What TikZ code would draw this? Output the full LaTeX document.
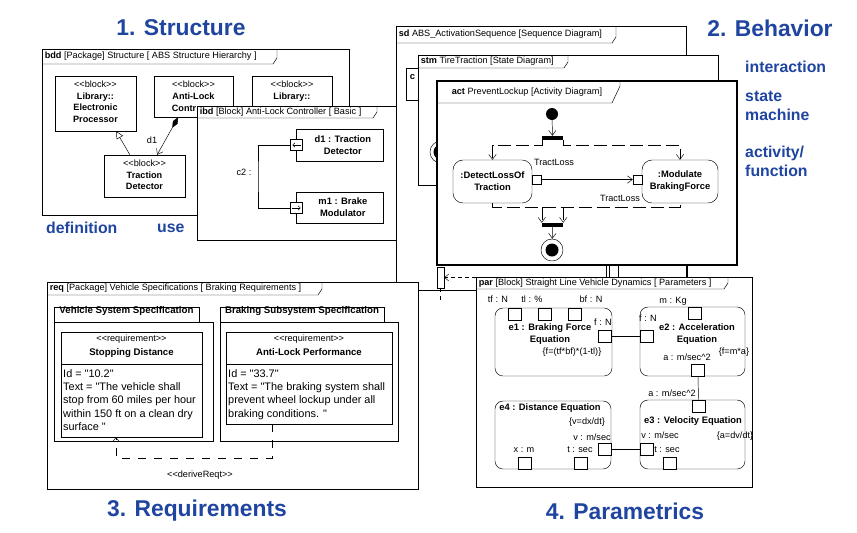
\documentclass[tikz,border=0pt]{standalone}
\usepackage{fontspec}
\newfontfamily\diagfont{Liberation Sans}
\usetikzlibrary{arrows.meta, positioning, fit}
\definecolor{absblue}{HTML}{1F45A0}

% frame tab: x-left, y-top, tab right, tab bottom, text, name
\newcommand{\frametab}[6]{%
  \draw (#1,#4) -- (#3-4,#4) -- (#3,#4-6) -- (#3,#2);
  \node[tablbl, anchor=west] (#6) at (#1+2,{(#2+#4)/2}) {#5};
}

\begin{document}
\begin{tikzpicture}[x=0.3mm, y=-0.3mm,
    frame/.style={draw, fill=white, inner sep=0pt},
    blk/.style={draw, fill=white, inner sep=0pt},
    eqn/.style={blk, rounded corners=2.4mm},
    actn/.style={blk, rounded corners=3mm},
    port/.style={draw, fill=white, inner sep=0pt,
                 minimum width=3.9mm, minimum height=3.6mm},
    pin/.style={draw, fill=white, inner sep=0pt, minimum size=2.7mm},
    lbl/.style={font=\diagfont\fontsize{7.8}{9.4}\selectfont, inner sep=0.5pt},
    tablbl/.style={lbl},
    bname/.style={font=\diagfont\bfseries\fontsize{8}{10.2}\selectfont,
                  align=center, inner sep=0.5pt},
    pkgtab/.style={blk, font=\diagfont\bfseries\fontsize{8.3}{10}\selectfont},
    reqtxt/.style={font=\diagfont\fontsize{9.3}{11.2}\selectfont,
                   align=left, inner sep=0pt, anchor=north west},
    title/.style={font=\diagfont\bfseries\fontsize{19.5}{23}\selectfont,
                  text=absblue},
    side/.style={font=\diagfont\bfseries\fontsize{13.5}{16.2}\selectfont,
                 text=absblue, align=left, inner sep=0pt, anchor=west},
    flow/.style={-{Straight Barb[length=1.5mm, width=2.2mm]}},
    cflow/.style={flow, dash pattern=on 3.9mm off 1.5mm},
    gen/.style={-{Triangle[open, length=2.2mm, width=2.2mm]}},
    comp/.style={{Diamond[length=3.6mm, width=1.6mm]}-{Straight Barb[length=1.5mm, width=2.2mm]}},
    deriv/.style={-{Straight Barb[length=1.2mm, width=2mm]},
                  dash pattern=on 2.4mm off 2.4mm}
  ]
  \path[fill=white, use as bounding box] (0,0) rectangle (857,532);

  % headings
  \node[title] (tstruct) at (181,28) {1. Structure};
  \node[title] (tbehav) at (770,28) {2. Behavior};
  \node[title] (treq) at (197,511) {3. Requirements};
  \node[title] (tpar) at (625,511) {4. Parametrics};
  \node[side] (tdef) at (46,228) {definition};
  \node[side] (tuse) at (157,228) {use};
  \node[side] (tint) at (745,67) {interaction};
  \node[side] (tstm) at (745,105.5) {state\\machine};
  \node[side] (tact) at (745,161.5) {activity/\\function};

  % sequence diagram
  \node[frame, fit={(396,26)(686,290)}] (sd) {};
  \frametab{396}{26}{616}{43}{\textbf{sd} ABS\_ActivationSequence [Sequence Diagram]}{sdT}
  \node[blk, fit={(406,68)(432,100)}] (sdc) {};
  \node[bname, anchor=west] (sdcT) at (409,77) {c};

  % state machine
  \node[frame, fit={(418,55)(718,185)}] (stm) {};
  \frametab{418}{55}{568}{68}{\textbf{stm} TireTraction [State Diagram]}{stmT}
  \node[circle, draw, fill=white, minimum size=6.6mm, inner sep=0pt] (stmfin) at (441,152) {};
  \node[circle, fill=black, minimum size=4.5mm, inner sep=0pt] (stmfinc) at (stmfin) {};

  % activity diagram
  \node[frame, line width=2.2pt, fit={(437,81)(737,265)}] (act) {};
  \draw (437,103) -- (612,103) -- (620,86) -- (620,81);
  \node[lbl, anchor=west] (actT) at (451,92) {\textbf{act} PreventLockup [Activity Diagram]};
  \node[circle, fill=black, minimum size=3.6mm, inner sep=0pt] (init) at (552,114) {};
  \node[fill=black, inner sep=0pt, minimum width=6.3mm, minimum height=1.2mm] (fork) at (552.5,138) {};
  \node[actn, fit={(453,160)(532,203)}] (dlt) {};
  \node[bname] (dltT) at (dlt) {:DetectLossOf\\Traction};
  \node[pin] (dltpin) at (536.5,179.5) {};
  \node[actn, fit={(642,160)(718,203)}] (mod) {};
  \node[bname] (modT) at (mod) {:Modulate\\BrakingForce};
  \node[pin] (modpin) at (637.5,179.5) {};
  \node[fill=black, inner sep=0pt, minimum width=6.3mm, minimum height=1.2mm] (join) at (552.5,225) {};
  \node[circle, draw, fill=white, minimum size=6.6mm, inner sep=0pt] (final) at (552,250) {};
  \node[circle, fill=black, minimum size=3.9mm, inner sep=0pt] (finalc) at (final) {};
  \coordinate (fsplit) at (552,145);
  \coordinate (fmerge) at (552,207);

  \draw[flow] (init) -- (fork);
  \draw[cflow] (fork.south west) |- (dlt.north |- fsplit) -- (dlt.north);
  \draw[cflow] (fork.south east) |- (mod.north |- fsplit) -- (mod.north);
  \draw[flow] (dltpin.east) -- (modpin.west);
  \node[lbl] (tl1) at (554,162) {TractLoss};
  \node[lbl] (tl2) at (620,198) {TractLoss};
  \draw[dash pattern=on 3.9mm off 1.5mm] (dlt.south) |- (mod.south |- fmerge) -- (mod.south);
  \draw[cflow] (join.north west |- fmerge) -- (join.north west);
  \draw[cflow] (join.north east |- fmerge) -- (join.north east);
  \draw[flow] (join) -- (final);

  % block definition diagram
  \node[frame, fit={(42,49)(349,215)}] (bdd) {};
  \frametab{42}{49}{277}{64}{\textbf{bdd} [Package] Structure [ ABS Structure Hierarchy ]}{bddT}
  \node[blk, fit={(55,76)(136,131)}] (lib) {};
  \node[lbl, align=center, below=1.2mm of lib.north] (libT)
    {<<block>>\\[1.5pt]\textbf{Library::}\\\textbf{Electronic}\\\textbf{Processor}};
  \node[blk, fit={(154,76)(233,117)}] (ctrl) {};
  \node[lbl, align=center, below=1.2mm of ctrl.north] (ctrlT)
    {<<block>>\\[1.5pt]\textbf{Anti-Lock}};
  \node[lbl, anchor=west, font=\diagfont\bfseries\fontsize{7.8}{9.4}\selectfont] (ctrlC) at (171,108) {Contr};
  \node[blk, fit={(252,76)(332,140)}] (lib2) {};
  \node[lbl, align=center, below=1.2mm of lib2.north] (lib2T)
    {<<block>>\\[1.5pt]\textbf{Library::}};
  \node[blk, fit={(104,155)(185,197)}] (td) {};
  \node[lbl, align=center, below=1.2mm of td.north] (tdT)
    {<<block>>\\[1.5pt]\textbf{Traction}\\\textbf{Detector}};
  \draw[gen] ([xshift=-4.4mm]td.north) -- ([xshift=6.2mm]lib.south);
  \draw[comp] ([xshift=-4.6mm]ctrl.south) -- ([xshift=3.8mm]td.north);
  \node[lbl] (d1L) at (152,140) {d1};

  % internal block diagram
  \node[frame, fit={(197,106)(396,240)}] (ibd) {};
  \frametab{197}{106}{377}{118}{\textbf{ibd} [Block] Anti-Lock Controller [ Basic ]}{ibdT}
  \node[blk, fit={(296,129)(383,161)}] (d1p) {};
  \node[bname] (d1pT) at ([xshift=1mm]d1p.center) {d1 : Traction\\Detector};
  \node[blk, fit={(296,192)(383,223)}] (m1p) {};
  \node[bname] (m1pT) at ([xshift=1mm]m1p.center) {m1 : Brake\\Modulator};
  \node[port, minimum width=3.6mm, minimum height=3.4mm] (d1port) at (296.5,145) {};
  \node[port, minimum width=3.6mm, minimum height=3.4mm] (m1port) at (296.5,208) {};
  \draw[-{Straight Barb[length=0.7mm, width=1.3mm]}] ([xshift=-0.6mm]d1port.east) -- ([xshift=0.6mm]d1port.west);
  \draw[-{Straight Barb[length=0.7mm, width=1.3mm]}] ([xshift=0.6mm]m1port.west) -- ([xshift=-0.6mm]m1port.east);
  \coordinate (c2bend) at (258,176);
  \draw (d1port.west) -| (c2bend) |- (m1port.west);
  \node[lbl] (c2L) at (244,172) {c2 :};

  % requirements
  \node[frame, fit={(47,282)(418,489)}] (req) {};
  \frametab{47}{282}{322}{295}{\textbf{req} [Package] Vehicle Specifications [ Braking Requirements ]}{reqT}
  \node[blk, fit={(54,322)(213,441)}] (vss) {};
  \node[pkgtab, fit={(54,307)(199,322)}] (vssT) {Vehicle System Specification};
  \node[blk, fit={(220,322)(398,441)}] (bss) {};
  \node[pkgtab, fit={(220,307)(384,322)}] (bssT) {Braking Subsystem Specification};
  \node[blk, fit={(61,332)(202,437)}] (sd1) {};
  \draw ([yshift=-9.6mm]sd1.north west) -- ([yshift=-9.6mm]sd1.north east);
  \node[lbl, align=center, below=0.6mm of sd1.north] (sd1H)
    {<<requirement>>\\[3pt]{\bfseries\fontsize{8.2}{9.8}\selectfont Stopping Distance}};
  \node[reqtxt] (sd1B) at (63,369.5)
    {Id = "10.2"\\Text = "The vehicle shall\\stop from 60 miles per hour\\within 150 ft on a clean dry\\surface "};
  \node[blk, fit={(226,332)(392,424)}] (alp) {};
  \draw ([yshift=-9.6mm]alp.north west) -- ([yshift=-9.6mm]alp.north east);
  \node[lbl, align=center, below=0.6mm of alp.north] (alpH)
    {<<requirement>>\\[3pt]{\bfseries\fontsize{8.2}{9.8}\selectfont Anti-Lock Performance}};
  \node[reqtxt] (alpB) at (228,369.5)
    {Id = "33.7"\\Text = "The braking system shall\\prevent wheel lockup under all\\braking conditions. "};
  \coordinate (drv) at (116,458);
  \draw[deriv] ([xshift=-11.1mm]alp.south) |- (drv) -- (drv |- sd1.south);
  \node[lbl] (drvL) at (200,475) {<<deriveReqt>>};

  % lifeline pieces between the frames
  \draw (606,265) -- (606,277) (609,265) -- (609,277) (618,265) -- (618,277) (687,265) -- (687,277);

  % parametric diagram
  \node[frame, fit={(476,277)(752,487)}] (par) {};
  \frametab{476}{277}{728}{289}{\textbf{par} [Block] Straight Line Vehicle Dynamics [ Parameters ]}{parT}
  \node[blk, fit={(437,267)(444,288)}] (life) {};
  \coordinate (lifeend) at (440.5,302);
  \draw[dash pattern=on 1.2mm off 1.2mm] (life.south) -- (lifeend);
  \draw[-{Straight Barb[length=1.2mm, width=2mm]}, dash pattern=on 1.2mm off 0.9mm]
    (par.north west |- life.east) -- (life.east);

  \node[eqn, fit={(495,308)(612,376)}] (e1) {};
  \node[bname] (e1T) at (550,334) {e1 : Braking Force\\Equation};
  \node[lbl] (e1R) at (572,352) {\{f=(tf*bf)*(1-tl)\}};
  \node[port, anchor=north] (e1tf) at (514.5,308) {};
  \node[port, anchor=north] (e1tl) at (545,308) {};
  \node[port, anchor=north] (e1bf) at (575,308) {};
  \node[port] (e1f) at (605,336) {};
  \node[lbl] (e1tfL) at (498,299) {tf : N};
  \node[lbl] (e1tlL) at (532,299) {tl : \%};
  \node[lbl] (e1bfL) at (591,299) {bf : N};
  \node[lbl] (e1fL) at (603,322) {f : N};

  \node[eqn, fit={(640,307)(745,376)}] (e2) {};
  \node[bname] (e2T) at (697,334) {e2 : Acceleration\\Equation};
  \node[lbl] (e2R) at (734,352) {\{f=m*a\}};
  \node[port] (e2f) at (646.5,336) {};
  \node[port, anchor=north] (e2m) at (695,307) {};
  \node[port, anchor=south] (e2a) at (698,376) {};
  \node[lbl] (e2fL) at (648,318) {f : N};
  \node[lbl] (e2mL) at (673,301) {m : Kg};
  \node[lbl] (e2aL) at (687,357) {a : m/sec\textasciicircum 2};

  \node[eqn, fit={(640,400)(745,469)}] (e3) {};
  \node[bname] (e3T) at (693,421) {e3 : Velocity Equation};
  \node[lbl] (e3R) at (735,436) {\{a=dv/dt\}};
  \node[port, anchor=north] (e3a) at (698.5,400) {};
  \node[port] (e3v) at (646.5,449) {};
  \node[port, anchor=south] (e3t) at (670,469) {};
  \node[lbl] (e3aL) at (672,393) {a : m/sec\textasciicircum 2};
  \node[lbl] (e3vL) at (660,435) {v : m/sec};
  \node[lbl] (e3tL) at (667,450) {t : sec};

  \node[eqn, fit={(495,401)(611,469)}] (e4) {};
  \node[bname] (e4T) at (550,408) {e4 : Distance Equation};
  \node[lbl] (e4R) at (587,422) {\{v=dx/dt\}};
  \node[port] (e4v) at (604.5,449) {};
  \node[port, anchor=south] (e4x) at (525,469) {};
  \node[port, anchor=south] (e4t) at (581,469) {};
  \node[lbl] (e4vL) at (592,437) {v : m/sec};
  \node[lbl] (e4xL) at (524,450) {x : m};
  \node[lbl] (e4tL) at (580,450) {t : sec};

  \draw (e1f.east) -- (e2f.west);
  \draw (e2a.south) -- (e3a.north);
  \draw (e4v.east) -- (e3v.west);
\end{tikzpicture}
\end{document}
